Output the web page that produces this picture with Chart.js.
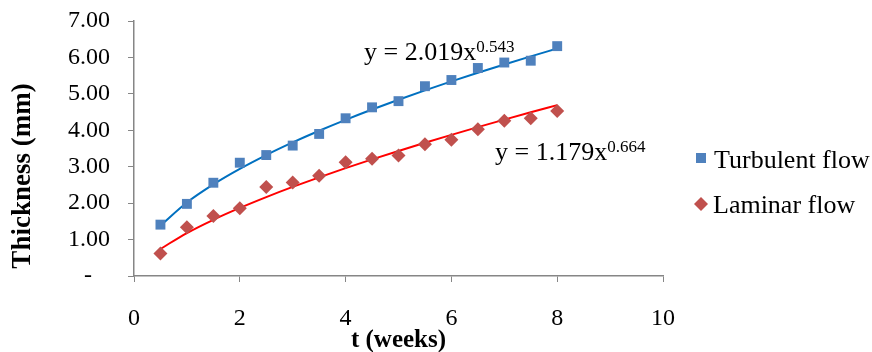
<!DOCTYPE html>
<html>
<head>
<meta charset="utf-8">
<script src="https://cdn.jsdelivr.net/npm/chart.js@4.4.1/dist/chart.umd.min.js"></script>
<style>
  html, body { margin: 0; padding: 0; background: #fff; }
  #wrap { width: 872px; height: 352px; }
</style>
</head>
<body>
<div id="wrap"><canvas id="myChart" width="872" height="352"></canvas></div>
<script>
// weeks (x values)
const weeks = [0.5, 1, 1.5, 2, 2.5, 3, 3.5, 4, 4.5, 5, 5.5, 6, 6.5, 7, 7.5, 8];
// measured thickness (mm)
const turbulent = [1.41, 1.98, 2.56, 3.11, 3.32, 3.58, 3.90, 4.33, 4.63, 4.80, 5.21, 5.38, 5.71, 5.86, 5.91, 6.31];
const laminar   = [0.62, 1.34, 1.65, 1.86, 2.44, 2.57, 2.75, 3.12, 3.22, 3.31, 3.62, 3.74, 4.03, 4.26, 4.33, 4.53];
// power trendlines as printed on the chart: y = a * x^b
const trendA = [2.019, 1.179];
const trendB = [0.543, 0.664];
const seriesNames = ['Turbulent flow', 'Laminar flow'];
const eqLabels = ['y = 2.019x', 'y = 1.179x'];
const eqPowers = ['0.543', '0.664'];

const FONT = "'Liberation Serif', 'Times New Roman', serif";
const AXIS_GRAY = '#868686';

function pts(ys) {
    return weeks.map((w, i) => ({x: w, y: ys[i]}));
}
function trend(k) {
    return weeks.map(w => ({x: w, y: trendA[k] * Math.pow(w, trendB[k])}));
}

const overlay = {
    id: 'overlay',
    afterDraw(chart) {
        const ctx = chart.ctx;
        ctx.save();
        ctx.fillStyle = '#000';
        ctx.textBaseline = 'alphabetic';

        // trendline equations
        const eqPos = [[364, 60], [495, 160]];
        eqLabels.forEach((t, i) => {
            ctx.font = '26px ' + FONT;
            ctx.textAlign = 'left';
            ctx.fillText(t, eqPos[i][0], eqPos[i][1]);
            const w = ctx.measureText(t).width;
            ctx.font = '17px ' + FONT;
            ctx.fillText(eqPowers[i], eqPos[i][0] + w, eqPos[i][1] - 8);
        });

        // legend
        ctx.fillStyle = '#4F81BD';
        ctx.fillRect(696, 153, 10, 10);
        ctx.fillStyle = '#C0504D';
        ctx.beginPath();
        ctx.moveTo(701, 197);
        ctx.lineTo(708, 204);
        ctx.lineTo(701, 211);
        ctx.lineTo(694, 204);
        ctx.closePath();
        ctx.fill();
        ctx.fillStyle = '#000';
        ctx.font = '26px ' + FONT;
        ctx.fillText(seriesNames[0], 714, 168);
        ctx.fillText(seriesNames[1], 713, 213);

        // axis titles
        ctx.font = 'bold 25px ' + FONT;
        ctx.textAlign = 'center';
        ctx.fillText('t (weeks)', (chart.chartArea.left + chart.chartArea.right) / 2, 347);
        ctx.font = 'bold 27px ' + FONT;
        ctx.translate(30, 176);
        ctx.rotate(-Math.PI / 2);
        ctx.fillText('Thickness (mm)', 0, 0);
        ctx.restore();
    }
};

new Chart('myChart', {
    type: 'scatter',
    data: {
        datasets: [{
            label: seriesNames[0],
            data: pts(turbulent),
            pointStyle: 'rect',
            pointRadius: 7,
            backgroundColor: '#4F81BD',
            borderColor: '#4F81BD',
            borderWidth: 0,
            order: 0
        }, {
            label: seriesNames[1],
            data: pts(laminar),
            pointStyle: 'rectRot',
            pointRadius: 7,
            backgroundColor: '#C0504D',
            borderColor: '#C0504D',
            borderWidth: 0,
            order: 1
        }, {
            label: 'trend turbulent',
            data: trend(0),
            showLine: true,
            pointRadius: 0,
            borderColor: '#0070C0',
            borderWidth: 2,
            cubicInterpolationMode: 'monotone',
            order: 2
        }, {
            label: 'trend laminar',
            data: trend(1),
            showLine: true,
            pointRadius: 0,
            borderColor: '#FF0000',
            borderWidth: 2,
            cubicInterpolationMode: 'monotone',
            order: 3
        }]
    },
    options: {
        responsive: false,
        animation: false,
        layout: {
            padding: {left: 0, top: 21, right: 209, bottom: 0}
        },
        scales: {
            x: {
                type: 'linear',
                min: 0,
                max: 10,
                afterFit: s => { s.height = 76; s.paddingLeft = 0; s.paddingRight = 0; },
                ticks: {
                    stepSize: 2,
                    color: '#000',
                    padding: 22,
                    maxRotation: 0,
                    font: {family: FONT, size: 24}
                },
                grid: {
                    drawOnChartArea: false,
                    color: AXIS_GRAY,
                    tickLength: 6
                },
                border: {color: AXIS_GRAY, width: 1.5}
            },
            y: {
                min: 0,
                max: 7,
                afterFit: s => { s.width = 134; s.paddingTop = 0; s.paddingBottom = 0; },
                ticks: {
                    stepSize: 1,
                    color: '#000',
                    padding: 18,
                    font: {family: FONT, size: 24},
                    callback: v => v === 0 ? '-   ' : v.toFixed(2)
                },
                grid: {
                    drawOnChartArea: false,
                    color: AXIS_GRAY,
                    tickLength: 6
                },
                border: {color: AXIS_GRAY, width: 1.5}
            }
        },
        plugins: {
            legend: {display: false},
            tooltip: {enabled: false}
        }
    },
    plugins: [overlay]
});
</script>
</body>
</html>
